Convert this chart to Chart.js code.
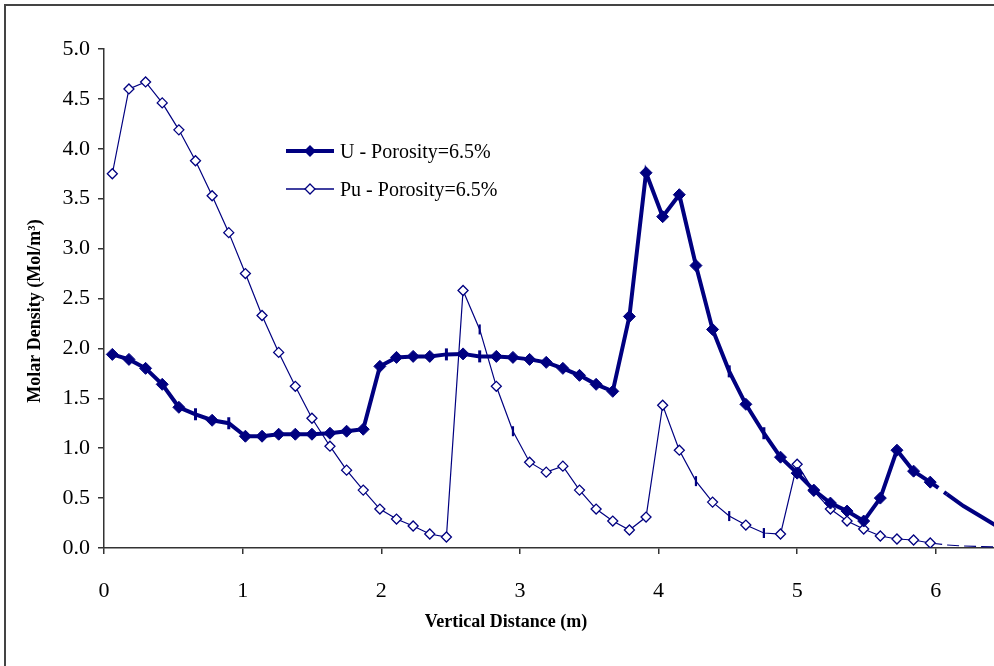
<!DOCTYPE html>
<html>
<head>
<meta charset="utf-8">
<script src="https://cdn.jsdelivr.net/npm/chart.js"></script>
<style>
  body { margin: 0; background: #fff; }
</style>
</head>
<body>
<canvas id="molar-chart" width="994" height="666"></canvas>
<script>
// cell centres along the column (m)
var distance = [0.06, 0.18, 0.30, 0.42, 0.54, 0.66, 0.78, 0.90, 1.02, 1.14,
    1.26, 1.38, 1.50, 1.63, 1.75, 1.87, 1.99, 2.11, 2.23, 2.35,
    2.47, 2.59, 2.71, 2.83, 2.95, 3.07, 3.19, 3.31, 3.43, 3.55,
    3.67, 3.79, 3.91, 4.03, 4.15, 4.27, 4.39, 4.51, 4.63, 4.76,
    4.88, 5.00, 5.12, 5.24, 5.36, 5.48, 5.60, 5.72, 5.84, 5.96,
    6.08, 6.20, 6.32, 6.44];

var uDensity = [1.94, 1.89, 1.80, 1.64, 1.41, 1.34, 1.28, 1.25, 1.12, 1.12,
    1.14, 1.14, 1.14, 1.15, 1.17, 1.19, 1.82, 1.91, 1.92, 1.92,
    1.94, 1.945, 1.92, 1.92, 1.91, 1.89, 1.86, 1.80, 1.73, 1.64,
    1.57, 2.32, 3.76, 3.32, 3.54, 2.83, 2.19, 1.77, 1.44, 1.15,
    0.91, 0.75, 0.58, 0.45, 0.37, 0.27, 0.50, 0.98, 0.77, 0.66,
    0.54, 0.42, 0.32, 0.22];

var puDensity = [3.75, 4.60, 4.67, 4.46, 4.19, 3.88, 3.53, 3.16, 2.75, 2.33,
    1.96, 1.62, 1.30, 1.02, 0.78, 0.58, 0.39, 0.29, 0.22, 0.14,
    0.11, 2.58, 2.19, 1.62, 1.17, 0.86, 0.76, 0.82, 0.58, 0.39,
    0.27, 0.18, 0.31, 1.43, 0.98, 0.67, 0.46, 0.32, 0.23, 0.15,
    0.14, 0.84, 0.57, 0.39, 0.27, 0.19, 0.12, 0.09, 0.08, 0.05,
    0.03, 0.02, 0.015, 0.01];

var xTicks = [0, 1, 2, 3, 4, 5, 6];
var yTicks = ["0.0", "0.5", "1.0", "1.5", "2.0", "2.5", "3.0", "3.5", "4.0", "4.5", "5.0"];

var uLabel = "U - Porosity=6.5%";
var puLabel = "Pu - Porosity=6.5%";

// points where the marker shows as a short vertical dash, and where markers stop
var uDashPts = [5, 7, 20, 22, 37, 39];
var puDashPts = [22, 24, 35, 37, 39];
var lastMarker = 49;

var navy = "#000080";
var serif = "'Liberation Serif', 'Times New Roman', serif";

function toXY(ys) {
    return ys.map(function (y, i) { return { x: distance[i], y: y }; });
}
function perPoint(dashPts, normal, dash, none) {
    return distance.map(function (d, i) {
        if (i > lastMarker) return none;
        return dashPts.indexOf(i) >= 0 ? dash : normal;
    });
}

function diamond(c, x, y, r) {
    c.beginPath();
    c.moveTo(x, y - r);
    c.lineTo(x + r, y);
    c.lineTo(x, y + r);
    c.lineTo(x - r, y);
    c.closePath();
}

var extras = {
    id: 'extras',
    afterDraw: function (chart) {
        var c = chart.ctx;
        c.save();
        // outer frame
        c.strokeStyle = "#444";
        c.lineWidth = 2;
        c.beginPath();
        c.moveTo(5, 666);
        c.lineTo(5, 5);
        c.lineTo(994, 5);
        c.stroke();

        // axis titles
        c.fillStyle = "#000";
        c.font = "bold 18px " + serif;
        c.textAlign = "center";
        c.textBaseline = "middle";
        c.fillText("Vertical Distance (m)", 506, 622);
        c.save();
        c.translate(35, 311);
        c.rotate(-Math.PI / 2);
        c.fillText("Molar Density (Mol/m\u00B3)", 0, 0);
        c.restore();

        // legend
        c.strokeStyle = navy;
        c.lineWidth = 4;
        c.beginPath();
        c.moveTo(286, 151);
        c.lineTo(334, 151);
        c.stroke();
        diamond(c, 310, 151, 6);
        c.fillStyle = navy;
        c.fill();

        c.lineWidth = 1.3;
        c.beginPath();
        c.moveTo(286, 189);
        c.lineTo(334, 189);
        c.stroke();
        diamond(c, 310, 189, 5);
        c.fillStyle = "#fff";
        c.fill();
        c.stroke();

        c.fillStyle = "#000";
        c.font = "20px " + serif;
        c.textAlign = "left";
        c.fillText(uLabel, 340, 153);
        c.fillText(puLabel, 340, 191);
        c.restore();
    }
};

var ctx = document.getElementById('molar-chart').getContext('2d');
var myChart = new Chart(ctx, {
    type: 'line',
    data: {
        datasets: [
            {
                label: uLabel,
                data: toXY(uDensity),
                borderColor: navy,
                borderWidth: 4,
                backgroundColor: navy,
                pointBackgroundColor: navy,
                pointBorderColor: navy,
                pointStyle: perPoint(uDashPts, 'rectRot', 'line', 'rectRot'),
                pointRotation: perPoint(uDashPts, 0, 90, 0),
                pointRadius: perPoint(uDashPts, 6, 6, 0),
                pointBorderWidth: perPoint(uDashPts, 1, 3, 0),
                segment: {
                    borderDash: function (s) { return s.p0DataIndex === lastMarker ? [10, 7] : undefined; }
                },
                fill: false,
                tension: 0
            },
            {
                label: puLabel,
                data: toXY(puDensity),
                borderColor: navy,
                borderWidth: 1.2,
                backgroundColor: "#fff",
                pointBackgroundColor: "#fff",
                pointBorderColor: navy,
                pointStyle: perPoint(puDashPts, 'rectRot', 'line', 'rectRot'),
                pointRotation: perPoint(puDashPts, 0, 90, 0),
                pointRadius: perPoint(puDashPts, 5, 5, 0),
                pointBorderWidth: perPoint(puDashPts, 1.3, 2.2, 0),
                segment: {
                    borderDash: function (s) { return s.p0DataIndex >= lastMarker ? [12, 5] : undefined; }
                },
                fill: false,
                tension: 0
            }
        ]
    },
    options: {
        responsive: false,
        animation: false,
        devicePixelRatio: 1,
        layout: {
            autoPadding: false,
            padding: { top: 49, right: 0, bottom: 0, left: 0 }
        },
        plugins: {
            legend: { display: false },
            tooltip: { enabled: false }
        },
        scales: {
            x: {
                type: 'linear',
                min: 0,
                max: 6.42,
                afterFit: function (s) {
                    s.height = 118;
                    s.paddingRight = 0;
                    s.paddingLeft = 0;
                },
                afterBuildTicks: function (s) {
                    s.ticks = xTicks.map(function (v) { return { value: v }; });
                },
                ticks: {
                    includeBounds: false,
                    color: "#000",
                    font: { family: serif, size: 22 },
                    padding: 24,
                    maxRotation: 0,
                    callback: function (v) { return String(v); }
                },
                grid: { drawOnChartArea: false, drawTicks: true, tickLength: 6, color: "#333", lineWidth: 1.5 },
                border: { color: "#333", width: 1.5 }
            },
            y: {
                min: 0,
                max: 5,
                afterFit: function (s) {
                    s.width = 104;
                    s.paddingTop = 0;
                    s.paddingBottom = 0;
                },
                afterBuildTicks: function (s) {
                    s.ticks = yTicks.map(function (t) { return { value: parseFloat(t) }; });
                },
                ticks: {
                    color: "#000",
                    font: { family: serif, size: 22 },
                    padding: 8,
                    callback: function (v, i) { return yTicks[i]; }
                },
                grid: { drawOnChartArea: false, drawTicks: true, tickLength: 6, color: "#333", lineWidth: 1.5 },
                border: { color: "#333", width: 1.5 }
            }
        }
    },
    plugins: [extras]
});
</script>
</body>
</html>
